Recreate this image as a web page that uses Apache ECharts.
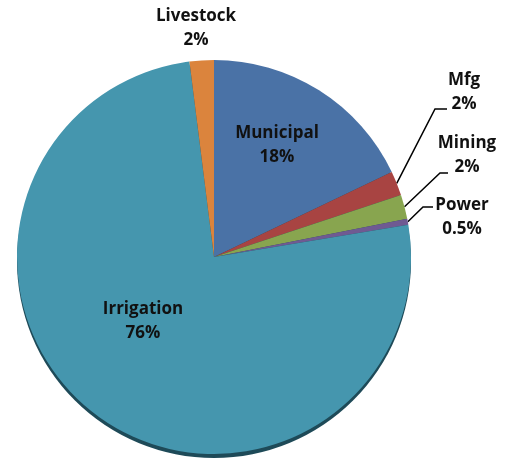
<!DOCTYPE html>
<html><head><meta charset="utf-8">
<script src="https://cdn.jsdelivr.net/npm/echarts@6/dist/echarts.min.js"></script>
<style>html,body{margin:0;padding:0;background:#fff}#c{width:505px;height:459px}</style>
</head><body><div id="c"></div>
<script>
const categories = ['Municipal', 'Mfg', 'Mining', 'Power', 'Irrigation', 'Livestock'];
const values = [18, 2, 2, 0.5, 76, 2];
const pctLabels = ['18%', '2%', '2%', '0.5%', '76%', '2%'];
const colors = ['#4A72A6', '#A84442', '#88A54F', '#6F5A92', '#4596AE', '#DB843D'];

const insideSet = { 'Municipal': 1, 'Irrigation': 1 };

// label placement (layout, not data): block centre, elbow and line end
const place = {
  'Municipal': { c: [277, 145] },
  'Irrigation': { c: [143, 321] },
  'Livestock': { c: [196, 28] },
  'Mfg': { c: [464, 92], elbow: [435, 109], end: [447, 109] },
  'Mining': { c: [467, 155], elbow: [440, 173], end: [448, 173] },
  'Power': { c: [462, 217], elbow: [423, 207], end: [433, 207] }
};

const data = categories.map((c, i) => ({
  name: c,
  value: values[i],
  itemStyle: { color: colors[i] },
  label: {
    position: insideSet[c] ? 'inside' : 'outside',
    formatter: c + '\n' + pctLabels[i]
  },
  labelLine: { show: !!place[c].elbow }
}));

const chart = echarts.init(document.getElementById('c'));
chart.setOption({
  animation: false,
  series: [
    {
      type: 'pie', silent: true, z: 1,
      center: [214, 261], radius: 197,
      startAngle: 90, clockwise: true,
      data: [{ value: 1, itemStyle: { color: '#1E4A58' } }],
      label: { show: false }, labelLine: { show: false }
    },
    {
      type: 'pie', z: 2,
      center: [214, 257], radius: 197,
      startAngle: 90, clockwise: true,
      avoidLabelOverlap: false,
      itemStyle: { borderWidth: 0 },
      label: {
        color: '#111', fontFamily: 'Open Sans', fontWeight: 'bold', fontSize: 17,
        lineHeight: 24, align: 'center'
      },
      labelLine: { length: 20, length2: 10, lineStyle: { color: '#000', width: 1.5 } },
      labelLayout: function (p) {
        const pl = place[categories[p.dataIndex]];
        const r = { x: pl.c[0], y: pl.c[1], align: 'center', verticalAlign: 'middle' };
        if (pl.elbow && p.labelLinePoints) {
          r.labelLinePoints = [p.labelLinePoints[0], pl.elbow, pl.end];
        }
        return r;
      },
      data: data
    }
  ]
});
</script></body></html>
